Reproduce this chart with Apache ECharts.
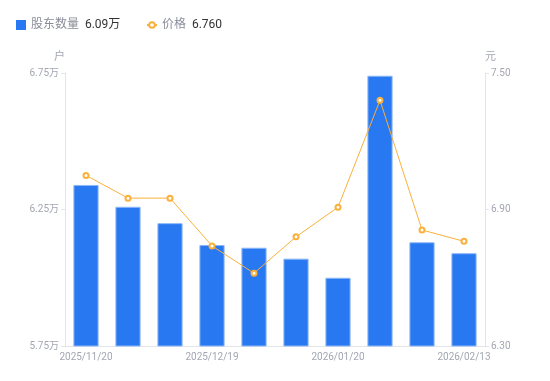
<!DOCTYPE html>
<html><head><meta charset="utf-8">
<script src="https://cdn.jsdelivr.net/npm/echarts@6/dist/echarts.min.js"></script>
<style>html,body{margin:0;padding:0;background:#fff}#c{width:550px;height:381px}</style>
</head><body><div id="c"></div>
<script>
const categories = ['2025/11/20','2025/11/30','2025/12/10','2025/12/19','2025/12/31','2026/01/09','2026/01/20','2026/01/30','2026/02/06','2026/02/13'];
const holders = [6.34, 6.26, 6.20, 6.12, 6.11, 6.07, 6.00, 6.74, 6.13, 6.09];
const prices = [7.05, 6.95, 6.95, 6.74, 6.62, 6.78, 6.91, 7.38, 6.81, 6.76];
const leftTicks = [5.75, 6.25, 6.75];
const rightTicks = [6.30, 6.90, 7.50];

const chart = echarts.init(document.getElementById('c'));
const font = 'Roboto, "Noto Sans CJK SC", sans-serif';
const labelColor = '#a3a6b2';
const lineColor = '#e3e4e8';
const rich = {
  n: {color: '#8a8d99', fontSize: 12, fontFamily: font},
  v: {color: '#333', fontSize: 12, fontFamily: font}
};
chart.setOption({
  animation: false,
  textStyle: {fontFamily: font},
  legend: [{
    left: 11, top: 14, itemWidth: 10, itemHeight: 10,
    data: [{name: '股东数量', icon: 'rect', itemStyle: {borderWidth: 0, color: '#2878f2'}}],
    formatter: n => '{n|' + n + '}  {v|' + holders[holders.length - 1].toFixed(2) + '万}',
    textStyle: {fontFamily: font, rich: rich}
  }, {
    left: 141, top: 14, itemWidth: 10, itemHeight: 7,
    data: [{name: '价格'}],
    formatter: n => '{n|' + n + '}  {v|' + prices[prices.length - 1].toFixed(3) + '}',
    textStyle: {fontFamily: font, rich: rich}
  }],
  grid: {left: 65, right: 65, top: 73, bottom: 35},
  xAxis: {
    type: 'category', data: categories,
    axisLine: {lineStyle: {color: lineColor}},
    axisTick: {show: false},
    axisLabel: {color: labelColor, fontSize: 10, interval: 2, margin: 6}
  },
  yAxis: [{
    type: 'value', name: '户', min: leftTicks[0], max: leftTicks[2], interval: 0.5,
    nameTextStyle: {color: labelColor, fontSize: 11, align: 'right'},
    nameGap: 10,
    axisLine: {show: true, lineStyle: {color: lineColor}},
    axisTick: {show: true, length: 4, lineStyle: {color: lineColor}},
    splitLine: {show: false},
    axisLabel: {color: labelColor, fontSize: 10, margin: 6, formatter: v => v.toFixed(2) + '万'}
  }, {
    type: 'value', name: '元', min: rightTicks[0], max: rightTicks[2], interval: 0.6,
    nameTextStyle: {color: labelColor, fontSize: 11, align: 'left'},
    nameGap: 10,
    axisLine: {show: true, lineStyle: {color: lineColor}},
    axisTick: {show: true, length: 4, lineStyle: {color: lineColor}},
    splitLine: {show: false},
    axisLabel: {color: labelColor, fontSize: 10, margin: 6, formatter: v => v.toFixed(2)}
  }],
  series: [{
    name: '股东数量', type: 'bar', data: holders, barWidth: '60%',
    itemStyle: {color: '#2878f2', borderColor: '#8fb8f7', borderWidth: 1}
  }, {
    name: '价格', type: 'line', yAxisIndex: 1, data: prices,
    symbol: 'emptyCircle', symbolSize: 5,
    itemStyle: {color: '#fbb03b', borderWidth: 2},
    lineStyle: {color: '#fbb03b', width: 1}
  }]
});
</script></body></html>
